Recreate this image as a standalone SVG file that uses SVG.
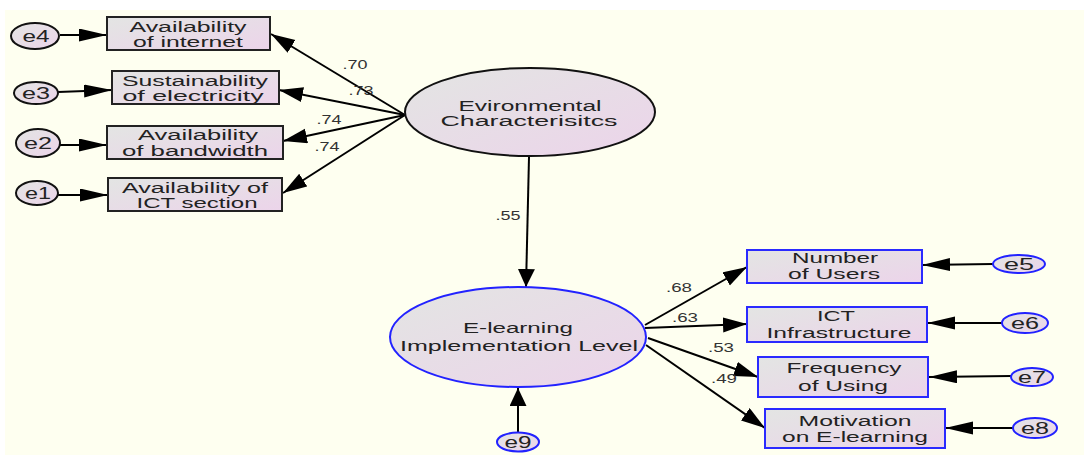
<svg xmlns="http://www.w3.org/2000/svg" width="1084" height="455" viewBox="0 0 1084 455">
  <defs>
    <linearGradient id="fillGrad" x1="0" y1="0" x2="1" y2="1">
      <stop offset="0" stop-color="#e3e5e3"/>
      <stop offset="1" stop-color="#ecd4ea"/>
    </linearGradient>
    <marker id="arrH" markerUnits="userSpaceOnUse" markerWidth="30" markerHeight="14" refX="28" refY="6.5" orient="auto">
      <path d="M0,0 L28,6.5 L0,13 Z" fill="#000"/>
    </marker>
    <marker id="arrD" markerUnits="userSpaceOnUse" markerWidth="26" markerHeight="16" refX="24" refY="7.5" orient="auto">
      <path d="M0,0 L24,7.5 L0,15 Z" fill="#000"/>
    </marker>
    <marker id="arrV" markerUnits="userSpaceOnUse" markerWidth="20" markerHeight="18" refX="18" refY="8.5" orient="auto">
      <path d="M0,0 L18,8.5 L0,17 Z" fill="#000"/>
    </marker>
    <style>
      .bg { fill: #fefff0; }
      .box { fill: url(#fillGrad); stroke: #222; stroke-width: 2; }
      .boxB { fill: url(#fillGrad); stroke: #2a2aff; stroke-width: 2; }
      .ell { fill: url(#fillGrad); stroke: #111; stroke-width: 2; }
      .ellB { fill: url(#fillGrad); stroke: #2222ff; stroke-width: 2; }
      .t { font-family: "Liberation Sans", Arial, sans-serif; font-size: 14px; fill: #222; text-anchor: middle; }
      .e { font-family: "Liberation Sans", Arial, sans-serif; font-size: 17px; fill: #222; text-anchor: middle; }
      .w { font-family: "Liberation Sans", Arial, sans-serif; font-size: 12px; fill: #333; text-anchor: middle; }
      .c { stroke: #000; stroke-width: 2; fill: none; }
      .cH { marker-end: url(#arrH); }
      .cD { marker-end: url(#arrD); }
      .cV { marker-end: url(#arrV); }
    </style>
  </defs>

  <rect x="0" y="0" width="1084" height="455" fill="#ffffff"/>
  <rect class="bg" x="5" y="10" width="1079" height="445"/>

  <!-- connectors -->
  <g id="connectors">
    <!-- error terms into left indicators -->
    <line class="c cH" x1="60" y1="35" x2="107" y2="35"/>
    <line class="c cH" x1="58" y1="92" x2="112" y2="90"/>
    <line class="c cH" x1="60" y1="145" x2="107" y2="145"/>
    <line class="c cH" x1="58" y1="195" x2="108" y2="195" stroke-width="1.5"/>
    <!-- environmental factor loadings -->
    <line class="c cD" x1="405" y1="115" x2="271" y2="34"/>
    <line class="c cD" x1="405" y1="115" x2="279" y2="90"/>
    <line class="c cD" x1="405" y1="115" x2="283" y2="141"/>
    <line class="c cD" x1="405" y1="115" x2="283" y2="193"/>
    <!-- structural path -->
    <line class="c cV" x1="529" y1="157" x2="526" y2="287"/>
    <!-- disturbance -->
    <line class="c cV" x1="518" y1="433" x2="518" y2="388"/>
    <!-- e-learning loadings -->
    <line class="c cD" x1="645" y1="325" x2="747" y2="267"/>
    <line class="c cD" x1="645" y1="328" x2="747" y2="324"/>
    <line class="c cD" x1="648" y1="338" x2="758" y2="377"/>
    <line class="c cD" x1="646" y1="345" x2="765" y2="428"/>
    <!-- error terms into right indicators -->
    <line class="c cH" x1="993" y1="264" x2="922" y2="265"/>
    <line class="c cH" x1="1002" y1="323" x2="927" y2="323"/>
    <line class="c cH" x1="1011" y1="376" x2="929" y2="377"/>
    <line class="c cH" x1="1013" y1="428" x2="945" y2="428"/>
  </g>

  <!-- loading labels -->
  <g id="weights">
    <text class="w" x="355" y="69" textLength="25" lengthAdjust="spacingAndGlyphs">.70</text>
    <text class="w" x="361" y="95" textLength="25" lengthAdjust="spacingAndGlyphs">.73</text>
    <text class="w" x="329" y="124" textLength="25" lengthAdjust="spacingAndGlyphs">.74</text>
    <text class="w" x="327" y="151" textLength="25" lengthAdjust="spacingAndGlyphs">.74</text>
    <text class="w" x="508" y="220" textLength="25" lengthAdjust="spacingAndGlyphs">.55</text>
    <text class="w" x="679" y="292" textLength="26" lengthAdjust="spacingAndGlyphs">.68</text>
    <text class="w" x="685" y="322" textLength="26" lengthAdjust="spacingAndGlyphs">.63</text>
    <text class="w" x="721" y="352" textLength="26" lengthAdjust="spacingAndGlyphs">.53</text>
    <text class="w" x="724" y="383" textLength="26" lengthAdjust="spacingAndGlyphs">.49</text>
  </g>

  <!-- left indicators -->
  <g id="internet">
    <rect class="box" x="107" y="17" width="163" height="33"/>
    <text class="t" x="188" y="32" textLength="117" lengthAdjust="spacingAndGlyphs">Availability</text>
    <text class="t" x="188" y="47" textLength="110" lengthAdjust="spacingAndGlyphs">of internet</text>
  </g>
  <g id="electricity">
    <rect class="box" x="112" y="71" width="167" height="33"/>
    <text class="t" x="195" y="86" textLength="146" lengthAdjust="spacingAndGlyphs">Sustainability</text>
    <text class="t" x="193" y="101" textLength="141" lengthAdjust="spacingAndGlyphs">of  electricity</text>
  </g>
  <g id="bandwidth">
    <rect class="box" x="107" y="126" width="176" height="33"/>
    <text class="t" x="198" y="140" textLength="120" lengthAdjust="spacingAndGlyphs">Availability</text>
    <text class="t" x="195" y="156" textLength="146" lengthAdjust="spacingAndGlyphs">of  bandwidth</text>
  </g>
  <g id="ictSection">
    <rect class="box" x="108" y="178" width="174" height="33"/>
    <text class="t" x="195" y="193" textLength="146" lengthAdjust="spacingAndGlyphs">Availability  of</text>
    <text class="t" x="197" y="208" textLength="121" lengthAdjust="spacingAndGlyphs">ICT section</text>
  </g>

  <!-- left error terms -->
  <g id="e4">
    <ellipse class="ell" cx="35" cy="36" rx="24" ry="13"/>
    <text class="e" x="36" y="42" textLength="27" lengthAdjust="spacingAndGlyphs">e4</text>
  </g>
  <g id="e3">
    <ellipse class="ell" cx="36" cy="93" rx="22" ry="11"/>
    <text class="e" x="36" y="99" textLength="28" lengthAdjust="spacingAndGlyphs">e3</text>
  </g>
  <g id="e2">
    <ellipse class="ell" cx="38" cy="143" rx="22" ry="14"/>
    <text class="e" x="38" y="149" textLength="28" lengthAdjust="spacingAndGlyphs">e2</text>
  </g>
  <g id="e1">
    <ellipse class="ell" cx="37" cy="193" rx="21" ry="12"/>
    <text class="e" x="38" y="199" textLength="26" lengthAdjust="spacingAndGlyphs">e1</text>
  </g>

  <!-- latent variables -->
  <g id="environmental">
    <ellipse class="ell" cx="530" cy="112" rx="125" ry="44"/>
    <text class="t" x="530" y="111" textLength="143" lengthAdjust="spacingAndGlyphs">Evironmental</text>
    <text class="t" x="529" y="126" textLength="177" lengthAdjust="spacingAndGlyphs">Characterisitcs</text>
  </g>
  <g id="elearning">
    <ellipse class="ellB" cx="518" cy="337" rx="128" ry="50"/>
    <text class="t" x="518" y="333" textLength="110" lengthAdjust="spacingAndGlyphs">E-learning</text>
    <text class="t" x="519" y="351" textLength="238" lengthAdjust="spacingAndGlyphs">Implementation Level</text>
  </g>
  <g id="e9">
    <ellipse class="ellB" cx="518" cy="442" rx="21" ry="9.5"/>
    <text class="e" x="518" y="448" textLength="27" lengthAdjust="spacingAndGlyphs">e9</text>
  </g>

  <!-- right indicators -->
  <g id="users">
    <rect class="boxB" x="747" y="250" width="175" height="33"/>
    <text class="t" x="835" y="263" textLength="86" lengthAdjust="spacingAndGlyphs">Number</text>
    <text class="t" x="834" y="279" textLength="92" lengthAdjust="spacingAndGlyphs">of Users</text>
  </g>
  <g id="infrastructure">
    <rect class="boxB" x="747" y="307" width="180" height="35"/>
    <text class="t" x="836" y="321" textLength="38" lengthAdjust="spacingAndGlyphs">ICT</text>
    <text class="t" x="839" y="338" textLength="145" lengthAdjust="spacingAndGlyphs">Infrastructure</text>
  </g>
  <g id="frequency">
    <rect class="boxB" x="758" y="357" width="170" height="40"/>
    <text class="t" x="844" y="373" textLength="115" lengthAdjust="spacingAndGlyphs">Frequency</text>
    <text class="t" x="843" y="391" textLength="90" lengthAdjust="spacingAndGlyphs">of Using</text>
  </g>
  <g id="motivation">
    <rect class="boxB" x="765" y="409" width="180" height="39"/>
    <text class="t" x="855" y="426" textLength="113" lengthAdjust="spacingAndGlyphs">Motivation</text>
    <text class="t" x="855" y="442" textLength="146" lengthAdjust="spacingAndGlyphs">on E-learning</text>
  </g>

  <!-- right error terms -->
  <g id="e5">
    <ellipse class="ellB" cx="1019" cy="264" rx="26" ry="9"/>
    <text class="e" x="1019" y="270" textLength="30" lengthAdjust="spacingAndGlyphs">e5</text>
  </g>
  <g id="e6">
    <ellipse class="ellB" cx="1025" cy="323" rx="23" ry="10"/>
    <text class="e" x="1025" y="329" textLength="28" lengthAdjust="spacingAndGlyphs">e6</text>
  </g>
  <g id="e7">
    <ellipse class="ellB" cx="1032" cy="377" rx="21" ry="9"/>
    <text class="e" x="1032" y="383" textLength="28" lengthAdjust="spacingAndGlyphs">e7</text>
  </g>
  <g id="e8">
    <ellipse class="ellB" cx="1035" cy="428" rx="22" ry="10"/>
    <text class="e" x="1035" y="434" textLength="28" lengthAdjust="spacingAndGlyphs">e8</text>
  </g>
</svg>
